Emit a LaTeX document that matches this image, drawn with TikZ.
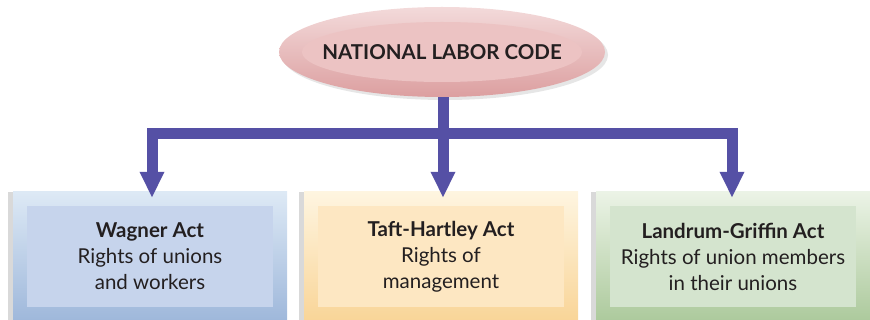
\documentclass[tikz,border=0pt]{standalone}
\usepackage{fontspec}
\setmainfont{Lato}
\usetikzlibrary{arrows.meta, positioning, shapes.geometric, shadows}
\definecolor{codetop}{HTML}{F3DADA}
\definecolor{codebot}{HTML}{DC9FA0}
\definecolor{codein}{HTML}{ECC3C3}
\definecolor{linkblue}{HTML}{5550A5}
\definecolor{inkgray}{HTML}{231F20}
\definecolor{bluetop}{HTML}{DDE9F5}
\definecolor{bluebot}{HTML}{9FB8DB}
\definecolor{bluein}{HTML}{C6D4EC}
\definecolor{sandtop}{HTML}{FEF5E0}
\definecolor{sandbot}{HTML}{F9D598}
\definecolor{sandin}{HTML}{FDE7C2}
\definecolor{sagetop}{HTML}{EBF3E6}
\definecolor{sagebot}{HTML}{ADCA9D}
\definecolor{sagein}{HTML}{D4E4CE}

\tikzset{
  panel/.style={minimum width=274pt, minimum height=128pt, inner sep=0pt,
                drop shadow={opacity=0.3, shadow xshift=-5pt, shadow yshift=0pt}},
  card/.style={minimum width=246pt, minimum height=101pt, inner sep=0pt,
               align=center, text=inkgray, font=\fontsize{20.5}{26}\selectfont},
  link/.style={draw=linkblue, line width=11pt},
  linkarrow/.style={link, -{Triangle[width=23pt,length=26pt]}, shorten >=-6pt}
}

\begin{document}
\begin{tikzpicture}[x=1pt, y=-1pt]
  \useasboundingbox (0,0) rectangle (870,320);

  % top of the tree
  \node[ellipse, top color=codetop, bottom color=codebot, minimum width=326pt,
        minimum height=90pt, inner sep=0pt,
        drop shadow={opacity=0.2, shadow xshift=3pt, shadow yshift=-3pt}] (code) at (442,52) {};
  \node[ellipse, fill=codein, minimum width=280pt, minimum height=60pt, inner sep=0pt] (codecore) at (code) {};
  \node[text=inkgray, font=\fontsize{20.5}{24}\selectfont\bfseries] (codetext) at (code) {NATIONAL LABOR CODE};

  % the three acts
  \node[panel, top color=bluetop, bottom color=bluebot] (wagnerbg) at (150,256) {};
  \node[card, fill=bluein] (wagner) at (150,256.5)
    {\textbf{Wagner Act}\\Rights of unions\\and workers};

  \node[panel, top color=sandtop, bottom color=sandbot] (taftbg) at (441,256) {};
  \node[card, fill=sandin] (taft) at (441,256.5)
    {\textbf{Taft-Hartley Act}\\Rights of\\management};

  \node[panel, top color=sagetop, bottom color=sagebot] (landrumbg) at (733,256) {};
  \node[card, fill=sagein] (landrum) at (733,256.5)
    {\textbf{Landrum-Griffin Act}\\Rights of union members\\in their unions};

  % connectors
  \coordinate (bar) at (443,134);
  \draw[link] (code.south) ++(1pt,0) -- (bar);
  \draw[linkarrow] (bar) -| ([xshift=2pt]wagnerbg.north);
  \draw[linkarrow] (bar) -- (bar |- taftbg.north);
  \draw[linkarrow] (bar) -| ([xshift=-1pt]landrumbg.north);
\end{tikzpicture}
\end{document}
